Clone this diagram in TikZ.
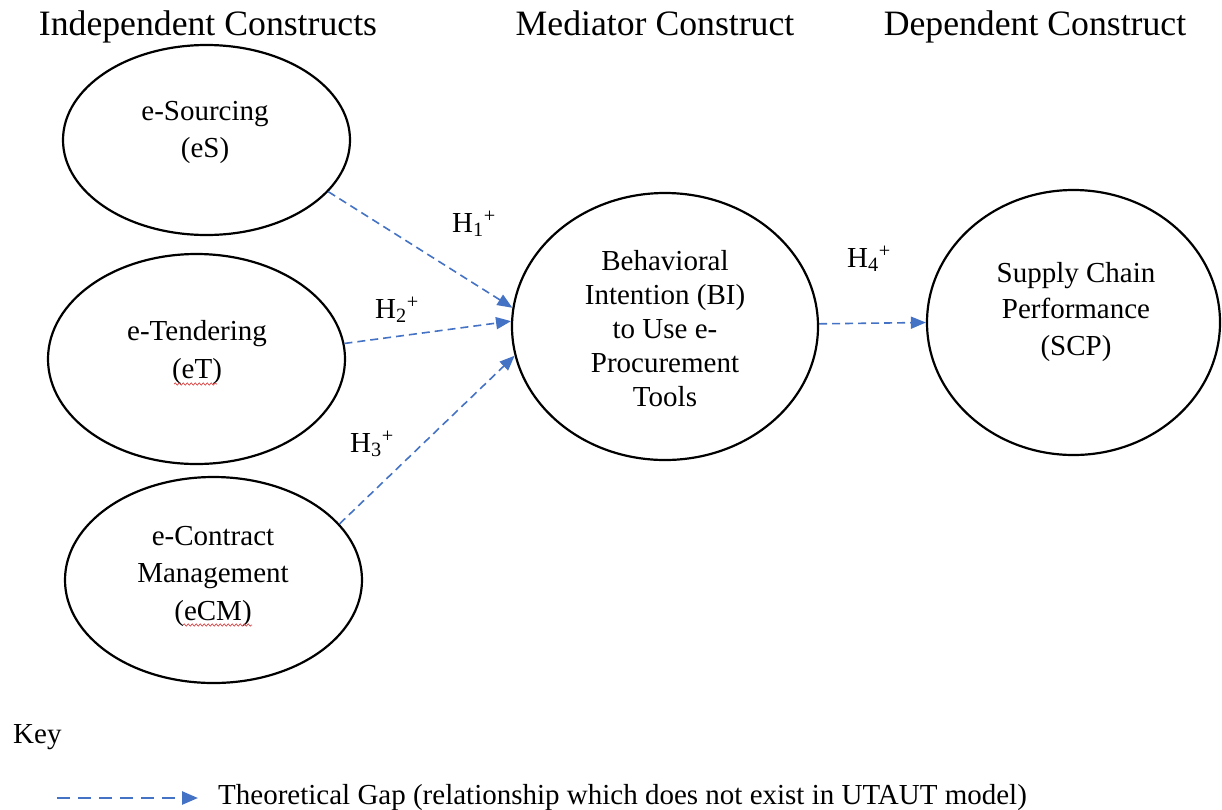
\documentclass[tikz,border=0pt]{standalone}
\usepackage{fontspec}
\setmainfont{Liberation Serif}
\usetikzlibrary{arrows.meta,shapes.geometric,decorations.pathmorphing}
\definecolor{gapblue}{RGB}{68,114,196}
\definecolor{squigred}{RGB}{215,70,70}
\newcommand{\mylines}[1]{\begin{tabular}[t]{@{}c@{}}#1\end{tabular}}
\begin{document}
\begin{tikzpicture}[x=1pt,y=-1pt,
  ell/.style={draw, ellipse, line width=2.2pt, inner sep=0pt},
  txt/.style={font=\fontsize{29}{#1}\selectfont, inner sep=0pt, anchor=base},
  txt/.default=37,
  title/.style={font=\fontsize{35.7}{40}\selectfont, inner sep=0pt, anchor=base},
  hlab/.style={font=\fontsize{29}{34}\selectfont, inner sep=0pt, anchor=base west},
  gap/.style={draw=gapblue, line width=1.6pt, dash pattern=on 8pt off 5pt,
    -{Triangle[length=15pt,width=12pt,fill=gapblue]}},
  leggap/.style={draw=gapblue, line width=2.6pt, dash pattern=on 13pt off 8pt,
    -{Triangle[length=16pt,width=13pt,fill=gapblue]}},
  squig/.style={draw=squigred, line width=0.7pt,
    decorate, decoration={snake, amplitude=1.1pt, segment length=4pt}}
]
\useasboundingbox (0,0) rectangle (1222,809);

% titles
\node[title] (tInd) at (208,35) {Independent Constructs};
\node[title] (tMed) at (655,35) {Mediator Construct};
\node[title] (tDep) at (1035,35) {Dependent Construct};

% ellipses
\node[ell, minimum width=287pt, minimum height=190pt] (eS)  at (206.5,140) {};
\node[ell, minimum width=297pt, minimum height=210pt] (eT)  at (196.5,359) {};
\node[ell, minimum width=297pt, minimum height=206pt] (eCM) at (213.5,580) {};
\node[ell, minimum width=306pt, minimum height=267pt] (BI)  at (665,326.5) {};
\node[ell, minimum width=293pt, minimum height=265pt] (SCP) at (1073.5,322.5) {};

% ellipse texts
\node[txt=37] (eSt)  at (205,120) {\mylines{e-Sourcing\\(eS)}};
\node[txt=38] (eTt)  at (197,340) {\mylines{e-Tendering\\(eT)}};
\node[txt=37.5] (eCMt) at (213,545) {\mylines{e-Contract\\Management\\(eCM)}};
\node[txt=34] (BIt)  at (665,270) {\mylines{Behavioral\\Intention (BI)\\to Use e-\\Procurement\\Tools}};
\node[txt=36.5] (SCPt) at (1076,282) {\mylines{Supply Chain\\Performance\\(SCP)}};

% spell-check underlines
\draw[squig] (174,384) -- (217,384);
\draw[squig] (183,625) -- (252,625);

% hypothesis connectors
\draw[gap] (eS.-23) -- (BI.173);
\draw[gap] (eT.6) -- (BI.178);
\draw[gap] (eCM.24) -- (BI.-169);
\draw[gap] (BI.1) -- (SCP.180);

% hypothesis labels
\node[hlab] (h1) at (452,232) {H\textsubscript{1}\textsuperscript{+}};
\node[hlab] (h2) at (375,318) {H\textsubscript{2}\textsuperscript{+}};
\node[hlab] (h3) at (350,452) {H\textsubscript{3}\textsuperscript{+}};
\node[hlab] (h4) at (847,267) {H\textsubscript{4}\textsuperscript{+}};

% key
\node[hlab] (key) at (13,743) {Key};
\coordinate (k1) at (57,798);
\coordinate (k2) at (198,798);
\draw[leggap] (k1) -- (k2);
\node[hlab] (keytxt) at (218,804) {Theoretical Gap (relationship which does not exist in UTAUT model)};
\end{tikzpicture}
\end{document}
